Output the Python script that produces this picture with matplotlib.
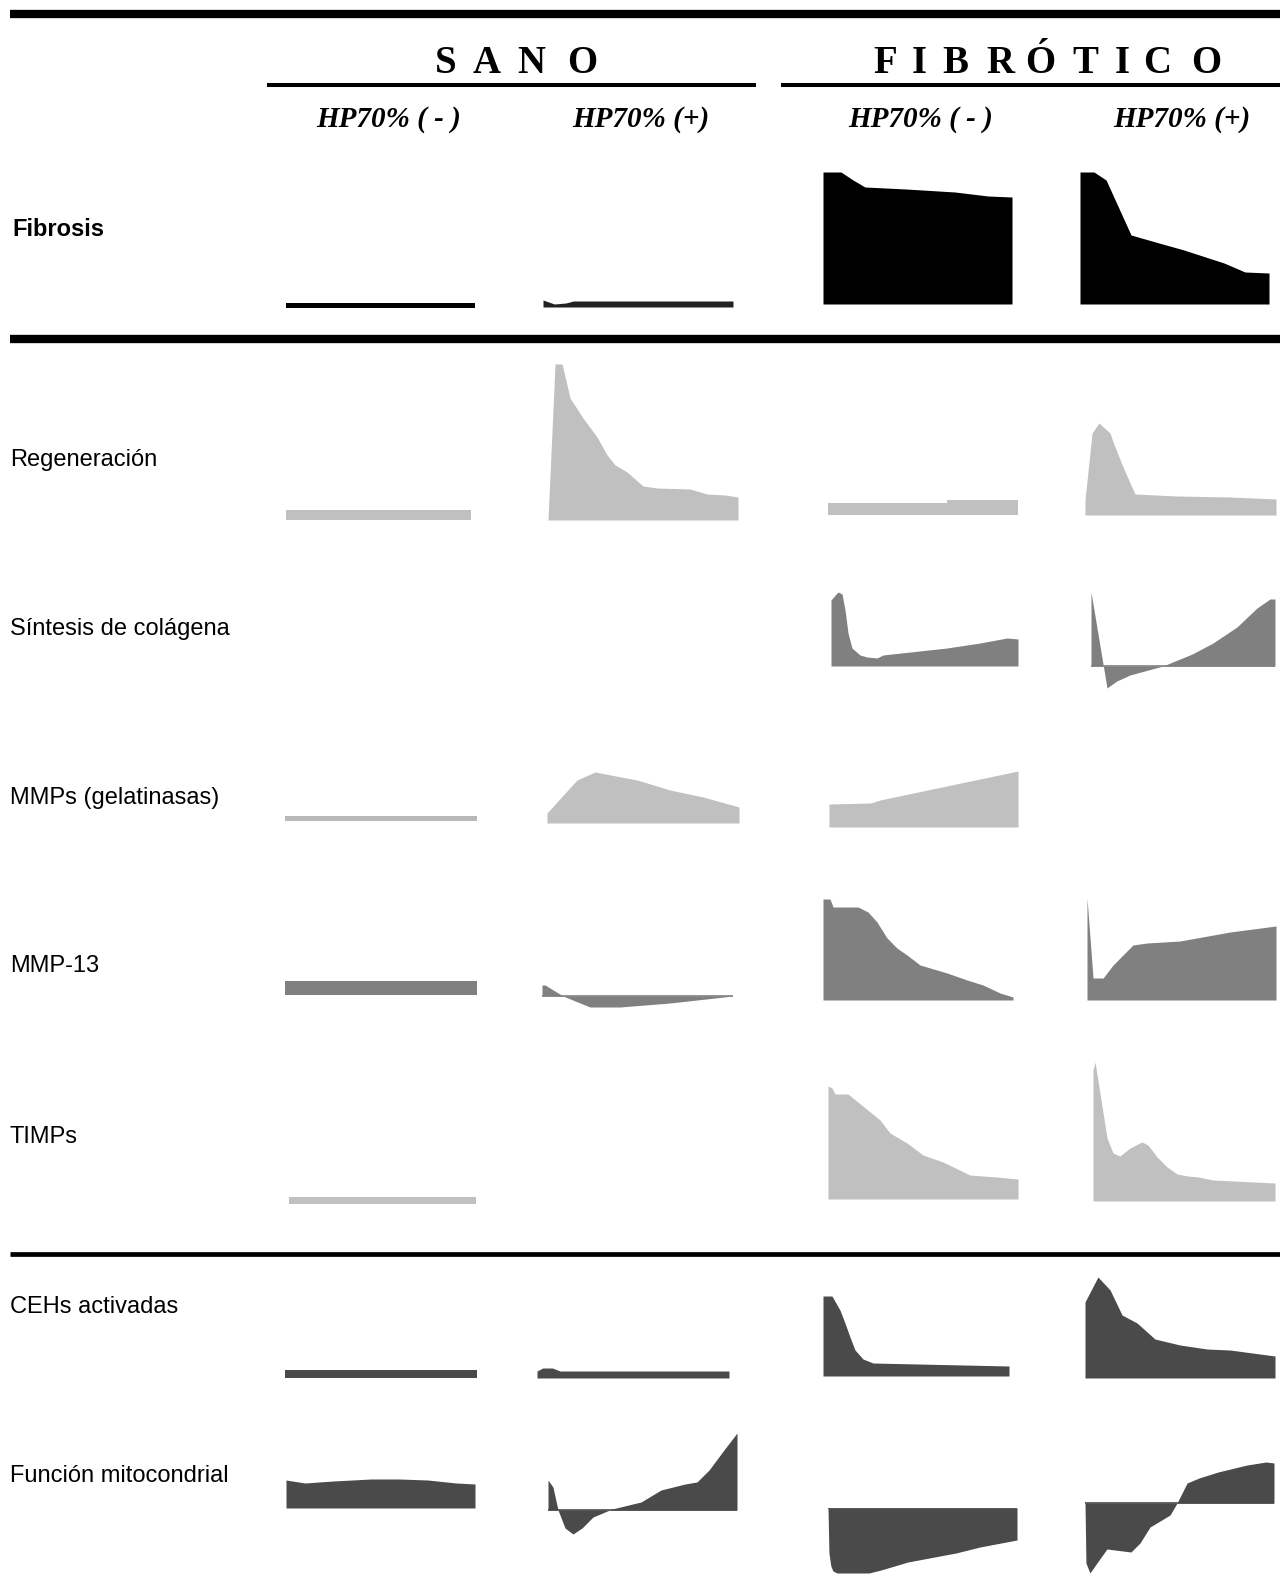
import matplotlib
matplotlib.use("Agg")
import matplotlib.pyplot as plt

W, H = 1280, 1595

# row / column labels
row_labels = ["Fibrosis", "Regeneración", "Síntesis de colágena", "MMPs (gelatinasas)",
              "MMP-13", "TIMPs", "CEHs activadas", "Función mitocondrial"]
group_labels = ["SANO", "FIBRÓTICO"]
col_labels = ["HP70% ( - )", "HP70% (+)", "HP70% ( - )", "HP70% (+)"]

# series: t = % of simulated time, v = relative level (0 = baseline)
fib_s_neg_t = [0, 100]
fib_s_neg_v = [5, 5]
fib_s_pos_t = [0, 3, 6, 12, 16, 100]
fib_s_pos_v = [7, 5, 3, 4, 6, 6]
fib_f_neg_t = [0, 9.5, 15.9, 22.2, 43.9, 69.8, 87.3, 100]
fib_f_neg_v = [132, 132, 124, 117, 115, 112, 108, 107]
fib_f_pos_t = [0, 7.4, 13.8, 27, 41.8, 55, 76.2, 87.3, 100]
fib_f_pos_v = [132, 132, 124, 69, 61, 54, 41, 32, 31]

reg_s_neg_t = [0, 100]
reg_s_neg_v = [10, 10]
reg_s_pos_t = [0, 3.7, 7.4, 11.6, 18.4, 25.8, 31.1, 35.3, 41.6, 50, 57.4, 74.7, 83.7, 93.2, 100]
reg_s_pos_v = [0, 156, 156, 122, 102, 83, 65, 55, 48, 34, 32, 31, 26, 25, 23]
reg_f_neg_t = [0, 62.6, 62.6, 100]
reg_f_neg_v = [12, 12, 15, 15]
reg_f_pos_t = [0, 3.7, 7.3, 13.1, 14.7, 19.9, 23.6, 26.2, 48.2, 75.9, 100]
reg_f_pos_v = [15, 82, 92, 82, 73, 48, 32, 21, 19, 18, 16]

col_f_neg_t = [0, 3.7, 5.9, 7.5, 9.1, 11.2, 15.5, 19.3, 24.6, 27.8, 62, 79.7, 94.1, 100]
col_f_neg_v = [66, 74, 72, 56, 33, 18, 11, 9, 8, 11, 18, 23, 28, 27]
col_f_pos_t = [0, 8.7, 14, 21.2, 39.1, 55, 66.3, 79.3, 90.2, 97.3, 100]
col_f_pos_v = [74, -22, -15, -9, 0, 12, 23, 39, 58, 67, 67]

mmp_s_neg_t = [0, 100]
mmp_s_neg_v = [5, 5]
mmp_s_pos_t = [0, 15.6, 25, 46.9, 64.1, 81.3, 100]
mmp_s_pos_v = [10, 43, 51, 43, 33, 26, 16]
mmp_f_neg_t = [0, 22, 27, 100]
mmp_f_neg_v = [23, 24, 27, 56]

m13_s_neg_t = [0, 100]
m13_s_neg_v = [14, 14]
m13_s_pos_t = [0, 1.6, 11, 25.1, 40.8, 67, 100]
m13_s_pos_v = [11, 11, 0, -11, -11, -7, 0]
m13_f_neg_t = [0, 3.7, 5.3, 18.4, 23.7, 28.4, 33.7, 38.9, 44.2, 51.1, 65.3, 75.8, 84.2, 93.2, 100]
m13_f_neg_v = [101, 101, 93, 93, 88, 78, 62, 52, 45, 35, 27, 20, 15, 7, 3]
m13_f_pos_t = [0, 3.2, 8.5, 13.8, 24.3, 31.7, 49.2, 75.7, 100]
m13_f_pos_v = [102, 22, 22, 35, 55, 57, 59, 68, 74]

tim_s_neg_t = [0, 100]
tim_s_neg_v = [7, 7]
tim_f_neg_t = [0, 2.1, 3.7, 10.5, 27.4, 32.6, 41.6, 50, 60.5, 74.7, 88.9, 100]
tim_f_neg_v = [113, 111, 105, 105, 79, 66, 56, 44, 37, 24, 22, 20]
tim_f_pos_t = [0, 1.1, 7.7, 11, 14.8, 20.3, 26.9, 30.2, 35.2, 40.7, 46.2, 52, 58, 65.9, 100]
tim_f_pos_v = [131, 139, 63, 48, 45, 53, 59, 56, 44, 34, 27, 25, 24, 21, 18]

ceh_s_neg_t = [0, 100]
ceh_s_neg_v = [8, 8]
ceh_s_pos_t = [0, 3, 8, 12, 100]
ceh_s_pos_v = [7, 10, 10, 7, 7]
ceh_f_neg_t = [0, 4.8, 9.1, 11.8, 14.5, 17.2, 21.5, 26.9, 100]
ceh_f_neg_v = [80, 80, 66, 53, 39, 26, 17, 13, 10]
ceh_f_pos_t = [0, 6.8, 13.2, 19.5, 27.4, 36.8, 50, 64.2, 76.3, 100]
ceh_f_pos_v = [76, 101, 88, 63, 55, 39, 33, 29, 28, 22]

mit_s_neg_t = [0, 10, 25, 45, 60, 75, 90, 100]
mit_s_neg_v = [28, 25, 27, 29, 29, 28, 25, 24]
mit_s_pos_t = [0, 2.6, 5.3, 9, 13.2, 18, 23.8, 33.9, 49.2, 59.8, 72.5, 78.8, 85.2, 93.1, 100]
mit_s_pos_v = [30, 23, 0, -18, -24, -18, -7, 1, 8, 20, 26, 28, 40, 60, 77]
mit_f_neg_t = [0, 0.5, 1.5, 2.6, 4.8, 21.7, 28, 42.3, 67.7, 80.4, 100]
mit_f_neg_v = [0, -45, -58, -63, -65, -65, -62, -54, -45, -39, -32]
mit_f_pos_t = [0, 0.5, 2.6, 6.3, 11.6, 24.3, 29.1, 34.4, 45, 48.7, 54, 60.3, 70.4, 85.7, 95.8, 100]
mit_f_pos_v = [0, -60, -70, -60, -46, -49, -40, -24, -12, 0, 20, 25, 31, 38, 41, 40]

BLACK = "#000000"
LIGHT = "#c0c0c0"
MID = "#808080"
DARK = "#4a4a4a"

fig = plt.figure(figsize=(W / 100, H / 100), dpi=100)
ax0 = fig.add_axes([0, 0, 1, 1])
ax0.set_xlim(0, W)
ax0.set_ylim(H, 0)
ax0.axis("off")


def spark(x0, x1, base, t, v, color, zero_line=False):
    vmax = max(max(v), 0)
    vmin = min(min(v), 0)
    ax = fig.add_axes([x0 / W, 1 - (base - vmin) / H, (x1 - x0) / W, (vmax - vmin) / H])
    ax.fill_between(t, 0, v, color=color, lw=0, interpolate=True)
    if zero_line:
        ax.axhline(0, color=color, lw=1.2)
    ax.set_xlim(0, 100)
    ax.set_ylim(vmin, vmax)
    ax.axis("off")
    return ax


# horizontal rules
ax0.plot([10, W], [14, 14], color="black", lw=6, solid_capstyle="butt")
ax0.plot([10, W], [339, 339], color="black", lw=6, solid_capstyle="butt")
ax0.plot([10, W], [1254, 1254], color="black", lw=3.4, solid_capstyle="butt")
ax0.plot([267, 756], [85, 85], color="black", lw=2.9, solid_capstyle="butt")
ax0.plot([781, W], [85, 85], color="black", lw=2.9, solid_capstyle="butt")

# group headers, letter by letter (spaced caps)
serif = "Liberation Serif"
for ch, x in zip(group_labels[0], [446, 487, 531, 582]):
    ax0.text(x, 73, ch, fontsize=28, family=serif, weight="bold", ha="center", va="baseline")
for ch, x in zip(group_labels[1], [885, 919, 955, 1000, 1040, 1085, 1122, 1157, 1206]):
    ax0.text(x, 73, ch, fontsize=28, family=serif, weight="bold", ha="center", va="baseline")

for lab, x in zip(col_labels, [389, 641, 921, 1182]):
    ax0.text(x, 127, lab, fontsize=21, family=serif, weight="bold", style="italic",
             ha="center", va="baseline")

# row labels
label_y = [236, 466, 635, 804, 972, 1143, 1313, 1482]
for i, (lab, y) in enumerate(zip(row_labels, label_y)):
    ax0.text(12 if i == 0 else 10, y, lab, fontsize=17, family="Liberation Sans",
             weight="bold" if i == 0 else "normal", ha="left", va="baseline")

# Fibrosis
spark(286, 475, 308, fib_s_neg_t, fib_s_neg_v, BLACK)
spark(543, 733, 307, fib_s_pos_t, fib_s_pos_v, "#222222")
spark(823, 1012, 304, fib_f_neg_t, fib_f_neg_v, BLACK)
spark(1080, 1269, 304, fib_f_pos_t, fib_f_pos_v, BLACK)

# Regeneracion
spark(286, 471, 520, reg_s_neg_t, reg_s_neg_v, LIGHT)
spark(548, 738, 520, reg_s_pos_t, reg_s_pos_v, LIGHT)
spark(828, 1018, 515, reg_f_neg_t, reg_f_neg_v, LIGHT)
spark(1085, 1276, 515, reg_f_pos_t, reg_f_pos_v, LIGHT)

# Sintesis de colagena
spark(831, 1018, 666, col_f_neg_t, col_f_neg_v, MID)
spark(1091, 1275, 666, col_f_pos_t, col_f_pos_v, MID, zero_line=True)

# MMPs
spark(285, 477, 821, mmp_s_neg_t, mmp_s_neg_v, "#b8b8b8")
spark(547, 739, 823, mmp_s_pos_t, mmp_s_pos_v, LIGHT)
spark(829, 1018, 827, mmp_f_neg_t, mmp_f_neg_v, LIGHT)

# MMP-13
spark(285, 477, 995, m13_s_neg_t, m13_s_neg_v, MID)
spark(542, 733, 996, m13_s_pos_t, m13_s_pos_v, MID, zero_line=True)
spark(823, 1013, 1000, m13_f_neg_t, m13_f_neg_v, MID)
spark(1087, 1276, 1000, m13_f_pos_t, m13_f_pos_v, MID)

# TIMPs
spark(289, 476, 1204, tim_s_neg_t, tim_s_neg_v, LIGHT)
spark(828, 1018, 1199, tim_f_neg_t, tim_f_neg_v, LIGHT)
spark(1093, 1275, 1201, tim_f_pos_t, tim_f_pos_v, LIGHT)

# CEHs activadas
spark(285, 477, 1378, ceh_s_neg_t, ceh_s_neg_v, DARK)
spark(537, 729, 1378, ceh_s_pos_t, ceh_s_pos_v, DARK)
spark(823, 1009, 1376, ceh_f_neg_t, ceh_f_neg_v, DARK)
spark(1085, 1275, 1378, ceh_f_pos_t, ceh_f_pos_v, DARK)

# Funcion mitocondrial
spark(286, 475, 1508, mit_s_neg_t, mit_s_neg_v, DARK)
spark(548, 737, 1510, mit_s_pos_t, mit_s_pos_v, DARK, zero_line=True)
spark(828, 1017, 1508, mit_f_neg_t, mit_f_neg_v, DARK, zero_line=True)
spark(1085, 1274, 1503, mit_f_pos_t, mit_f_pos_v, DARK, zero_line=True)

fig.savefig("out.png", dpi=100)
